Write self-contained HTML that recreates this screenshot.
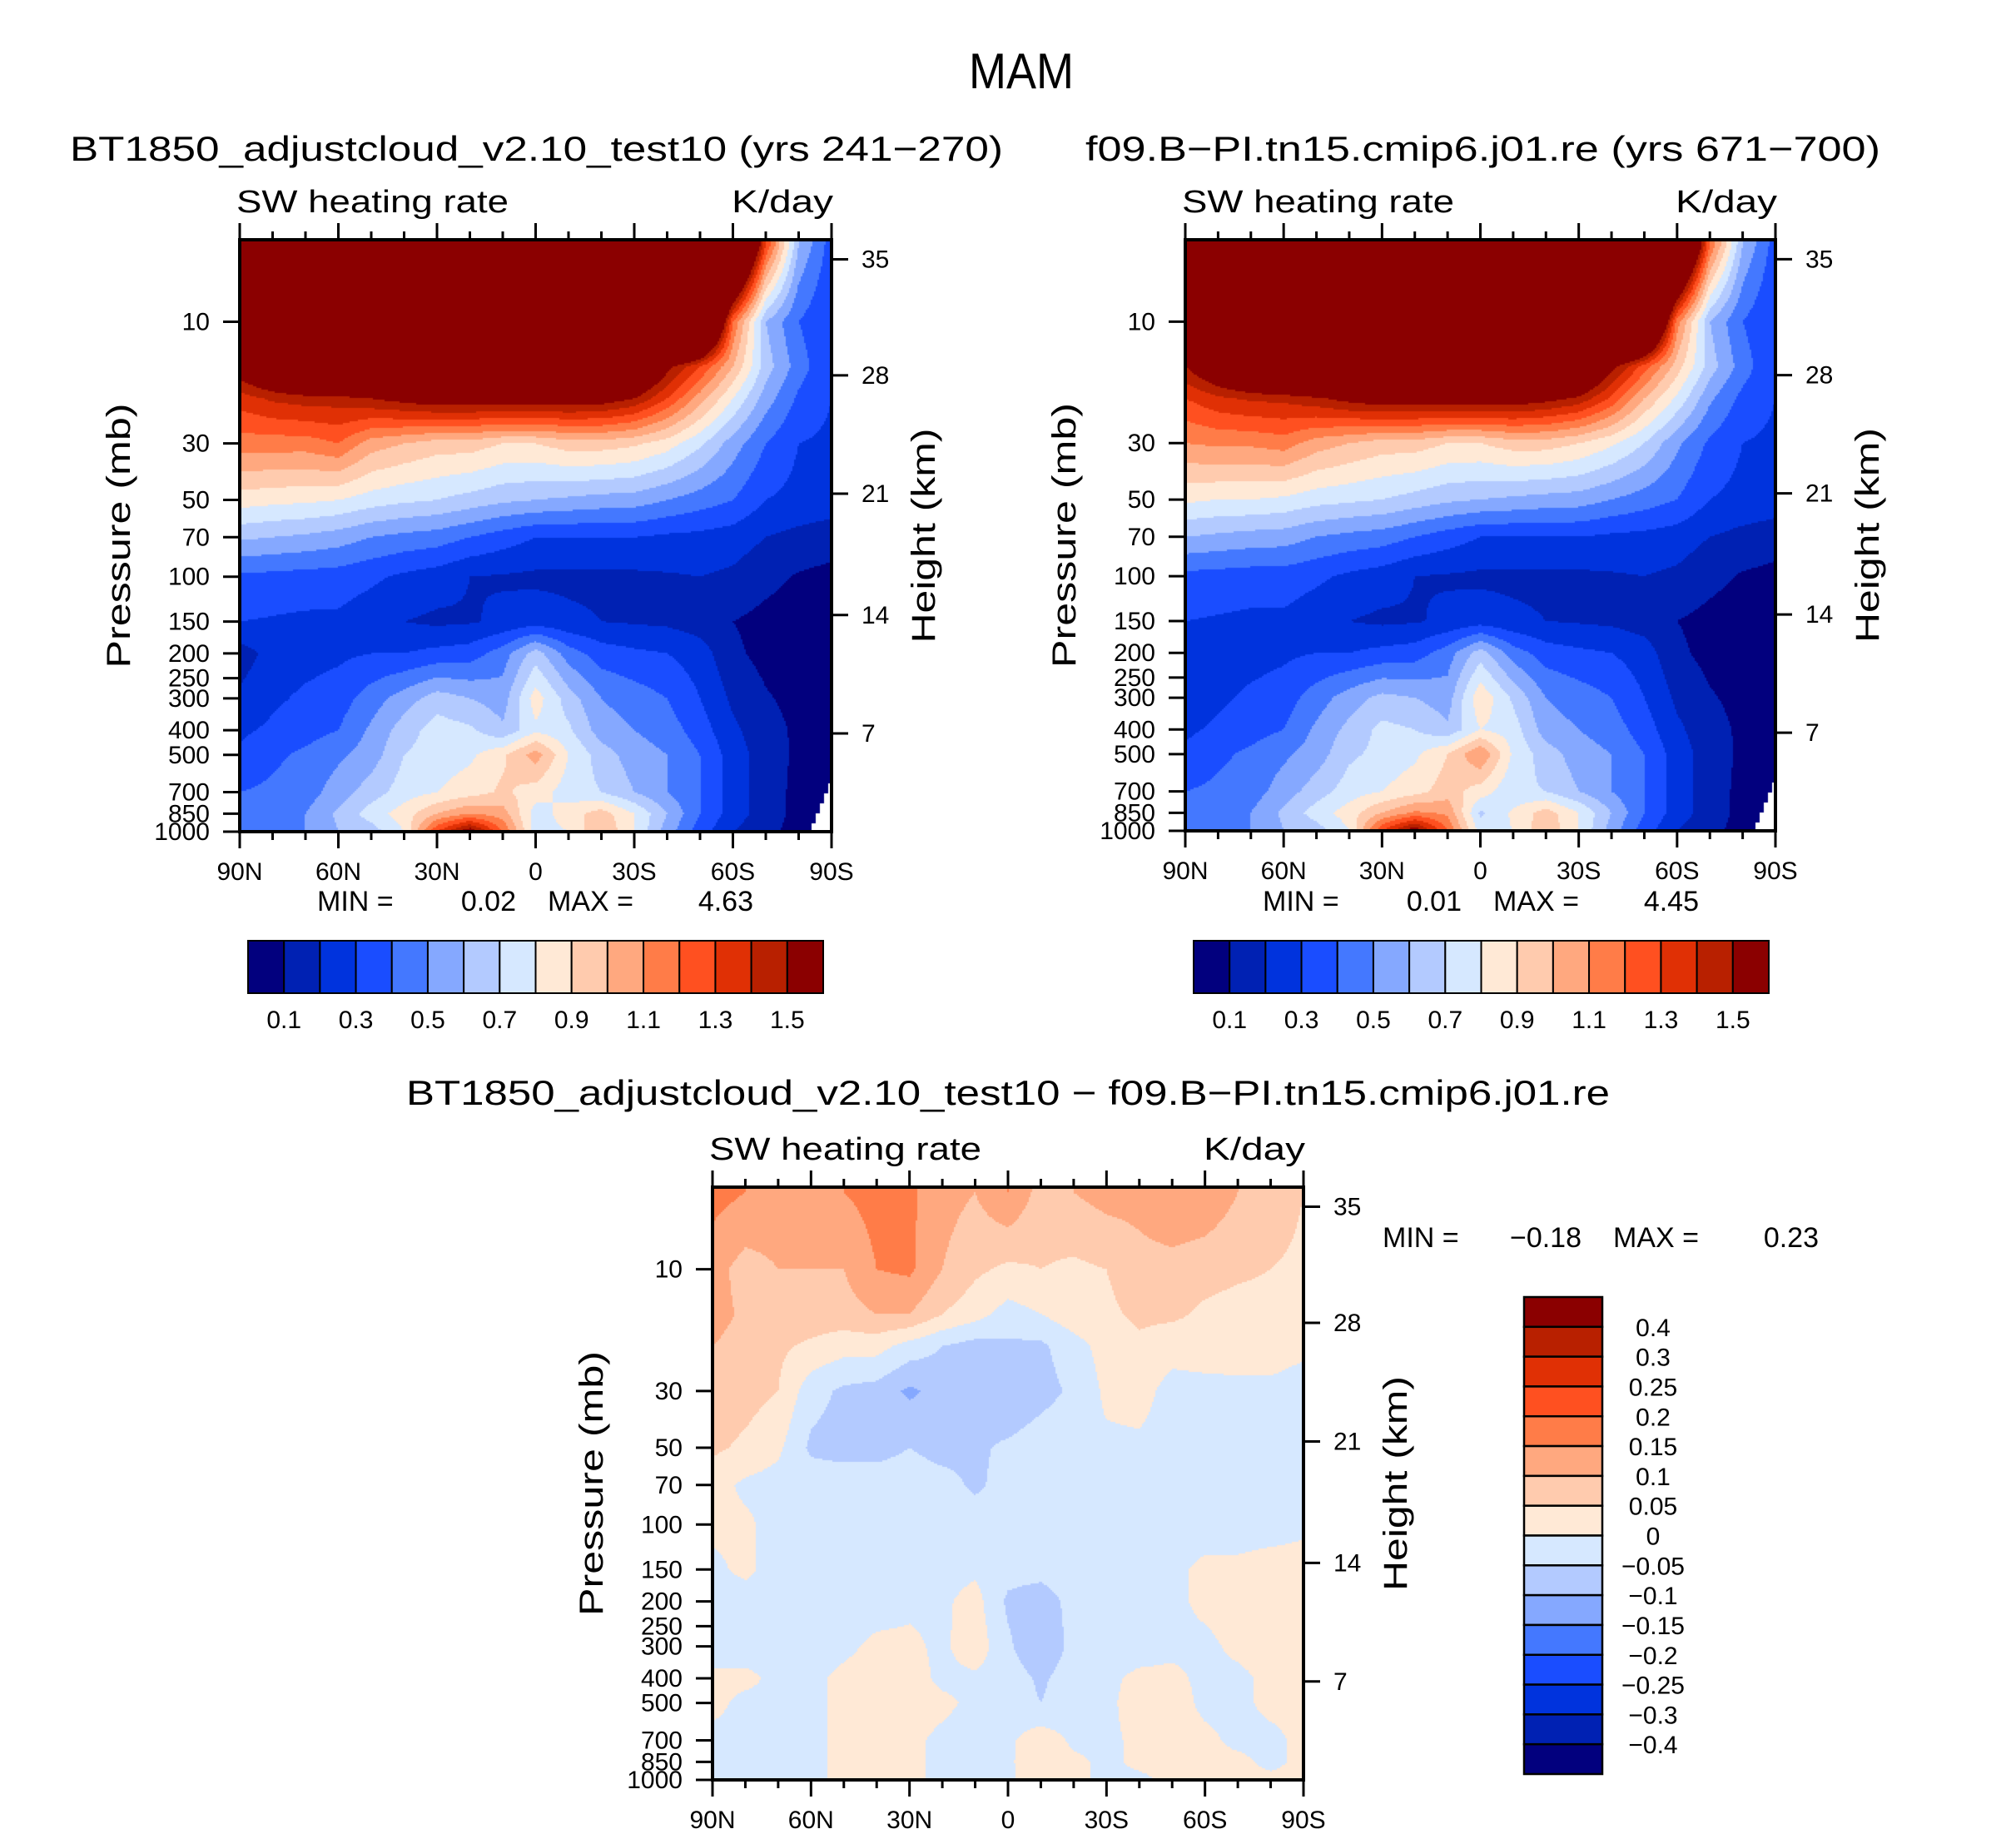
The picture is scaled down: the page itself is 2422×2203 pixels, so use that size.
<!DOCTYPE html>
<html><head><meta charset="utf-8"><title>MAM SW heating rate</title>
<style>
html,body{margin:0;padding:0;background:#fff;}
#root{position:relative;width:2422px;height:2203px;overflow:hidden;background:#fff;}
canvas{position:absolute;}
svg{position:absolute;left:0;top:0;}
text{font-family:"Liberation Sans",sans-serif;fill:#000;}
</style></head>
<body>
<div id="root">
<canvas id="cA"></canvas>
<canvas id="cB"></canvas>
<canvas id="cC"></canvas>
<svg id="ov" width="2422" height="2203"></svg>
</div>
<script>
// ---------- data ----------
const lats = [90,80,70,60,50,40,30,20,10,0,-10,-20,-30,-40,-50,-60,-70,-80,-90];
const pLevels = [5,10,15,20,30,50,70,100,150,200,300,400,500,700,850,1000];
const pTickLabels = [10,30,50,70,100,150,200,250,300,400,500,700,850,1000];
const latTicks = [90,60,30,0,-30,-60,-90];
const latTickLabels = ["90N","60N","30N","0","30S","60S","90S"];
const heightTicks = ["35","28","21","14","7"];
const heightTickFrac = [0.033,0.229,0.429,0.634,0.834];
const levelsAbs = [0.1,0.2,0.3,0.4,0.5,0.6,0.7,0.8,0.9,1.0,1.1,1.2,1.3,1.4,1.5];
const absBarLabels = ["0.1","0.3","0.5","0.7","0.9","1.1","1.3","1.5"];
const levelsDiff = [-0.4,-0.3,-0.25,-0.2,-0.15,-0.1,-0.05,0,0.05,0.1,0.15,0.2,0.25,0.3,0.4];
const diffBarLabels = ["0.4","0.3","0.25","0.2","0.15","0.1","0.05","0","\u22120.05","\u22120.1","\u22120.15","\u22120.2","\u22120.25","\u22120.3","\u22120.4"];
const palette = ["#02007e","#0021b3","#0033dd","#1a4dff","#4478ff","#85a8ff","#b3caff","#d6e8ff","#ffe9d6","#ffcbae","#ffa87f","#ff7c48","#ff5020","#e03005","#b82000","#8b0000"];

const fieldA = [
[3,3,3,3,3,3,3,3,3,3,3,3,3,3,3,2.5,1.3,0.6,0.35],
[3,3,3,3,3,3,3,3,3,3,3,3,3,3,2.5,1.2,0.6,0.4,0.3],
[1.6,1.8,2,2.2,2.3,2.4,2.5,2.5,2.5,2.5,2.4,2.2,1.9,1.55,1.3,1.0,0.65,0.45,0.3],
[1.35,1.42,1.45,1.45,1.5,1.55,1.6,1.6,1.6,1.6,1.6,1.58,1.5,1.3,1.05,0.8,0.55,0.38,0.3],
[1.15,1.15,1.15,1.2,1.05,1.0,0.95,0.95,0.9,0.9,0.95,0.95,0.92,0.85,0.72,0.55,0.4,0.3,0.28],
[0.85,0.83,0.82,0.8,0.75,0.72,0.7,0.66,0.62,0.6,0.58,0.56,0.55,0.5,0.45,0.4,0.3,0.27,0.25],
[0.62,0.6,0.58,0.55,0.5,0.47,0.45,0.4,0.35,0.3,0.3,0.3,0.3,0.28,0.27,0.25,0.2,0.17,0.15],
[0.38,0.37,0.36,0.35,0.32,0.28,0.25,0.2,0.19,0.18,0.18,0.18,0.18,0.19,0.2,0.18,0.13,0.09,0.07],
[0.3,0.29,0.28,0.28,0.24,0.2,0.18,0.19,0.22,0.25,0.22,0.2,0.19,0.18,0.15,0.1,0.07,0.05,0.04],
[0.15,0.24,0.26,0.28,0.3,0.3,0.33,0.35,0.45,0.65,0.45,0.35,0.32,0.3,0.25,0.12,0.07,0.05,0.04],
[0.22,0.28,0.32,0.35,0.45,0.55,0.65,0.6,0.55,0.85,0.65,0.5,0.45,0.4,0.3,0.18,0.11,0.07,0.05],
[0.28,0.32,0.36,0.4,0.52,0.65,0.75,0.72,0.62,0.78,0.72,0.55,0.5,0.45,0.35,0.22,0.14,0.08,0.05],
[0.32,0.38,0.42,0.48,0.55,0.7,0.75,0.78,0.88,1.05,0.8,0.65,0.55,0.5,0.4,0.25,0.15,0.08,0.05],
[0.4,0.42,0.45,0.55,0.65,0.75,0.8,0.85,0.92,0.85,0.75,0.7,0.6,0.5,0.4,0.25,0.15,0.07,0.05],
[0.45,0.48,0.5,0.62,0.75,0.85,1.0,1.1,1.05,0.75,0.85,0.95,0.8,0.6,0.4,0.25,0.15,0.07,0.05],
[0.42,0.45,0.5,0.6,0.65,0.8,1.3,1.6,1.2,0.75,0.8,1.0,0.8,0.55,0.35,0.2,0.13,0.06,0.04]
];
const fieldB = [
[3,3,3,3,3,3,3,3,3,3,3,3,3,3,3,2.4,1.2,0.6,0.35],
[3,3,3,3,3,3,3,3,3,3,3,3,3,3,2.4,1.15,0.6,0.4,0.3],
[1.5,1.7,1.9,2.1,2.2,2.4,2.5,2.5,2.5,2.5,2.4,2.2,1.9,1.55,1.25,0.95,0.65,0.45,0.3],
[1.3,1.38,1.42,1.43,1.48,1.55,1.6,1.6,1.6,1.6,1.6,1.55,1.48,1.28,1.0,0.78,0.52,0.37,0.3],
[1.1,1.12,1.12,1.15,1.05,1.0,0.95,0.95,0.9,0.9,0.95,0.95,0.9,0.82,0.7,0.52,0.38,0.3,0.28],
[0.82,0.8,0.8,0.78,0.74,0.72,0.7,0.66,0.62,0.6,0.58,0.56,0.55,0.5,0.45,0.4,0.3,0.27,0.25],
[0.6,0.58,0.56,0.55,0.5,0.47,0.45,0.4,0.35,0.3,0.3,0.3,0.3,0.28,0.27,0.25,0.2,0.17,0.15],
[0.37,0.36,0.35,0.35,0.32,0.28,0.25,0.2,0.19,0.18,0.18,0.18,0.18,0.19,0.2,0.18,0.13,0.09,0.07],
[0.3,0.29,0.28,0.28,0.24,0.2,0.18,0.19,0.22,0.25,0.22,0.2,0.19,0.18,0.15,0.1,0.07,0.05,0.04],
[0.22,0.25,0.26,0.28,0.3,0.3,0.33,0.35,0.45,0.65,0.45,0.35,0.32,0.3,0.25,0.12,0.07,0.05,0.04],
[0.24,0.28,0.32,0.35,0.45,0.55,0.63,0.6,0.55,0.88,0.68,0.5,0.45,0.4,0.3,0.18,0.11,0.07,0.05],
[0.28,0.32,0.36,0.4,0.52,0.63,0.73,0.7,0.62,0.8,0.75,0.55,0.5,0.45,0.35,0.22,0.14,0.08,0.05],
[0.32,0.38,0.42,0.48,0.55,0.68,0.73,0.78,0.9,1.1,0.78,0.65,0.55,0.5,0.4,0.25,0.15,0.08,0.05],
[0.4,0.42,0.45,0.55,0.65,0.75,0.8,0.86,0.95,0.85,0.72,0.7,0.6,0.5,0.4,0.25,0.15,0.07,0.05],
[0.45,0.48,0.5,0.62,0.75,0.85,1.0,1.12,1.08,0.68,0.82,0.95,0.8,0.6,0.4,0.25,0.15,0.07,0.05],
[0.42,0.45,0.5,0.6,0.65,0.8,1.3,1.6,1.2,0.75,0.8,0.98,0.8,0.55,0.35,0.2,0.13,0.06,0.04]
];
const fieldC = [
[0.17,0.15,0.13,0.13,0.15,0.17,0.16,0.12,0.1,0.15,0.08,0.1,0.12,0.12,0.15,0.14,0.1,0.08,0.05],
[0.12,0.08,0.1,0.1,0.1,0.15,0.16,0.1,0.06,0.04,0.05,0.04,0.05,0.08,0.08,0.07,0.06,0.05,0.04],
[0.12,0.09,0.08,0.08,0.08,0.1,0.1,0.05,0.02,-0.02,0.0,0.03,0.04,0.06,0.06,0.04,0.03,0.03,0.02],
[0.1,0.08,0.06,0.04,0.02,0.02,-0.02,-0.05,-0.07,-0.06,-0.06,-0.02,0.02,0.04,0.02,0.03,0.02,0.02,0.01],
[0.08,0.07,0.05,-0.03,-0.06,-0.07,-0.11,-0.08,-0.07,-0.1,-0.07,-0.04,0.01,0.02,-0.02,-0.02,-0.01,-0.01,-0.02],
[0.06,0.04,0.01,-0.06,-0.07,-0.07,-0.05,-0.07,-0.06,-0.04,-0.02,-0.01,-0.01,-0.01,-0.02,-0.02,-0.02,-0.02,-0.02],
[0.02,-0.01,-0.02,-0.02,-0.02,-0.02,-0.02,-0.03,-0.06,-0.03,-0.02,-0.02,-0.02,-0.02,-0.02,-0.02,-0.02,-0.02,-0.02],
[0.01,0.01,-0.02,-0.02,-0.02,-0.02,-0.02,-0.02,-0.02,-0.02,-0.02,-0.02,-0.02,-0.02,-0.02,-0.02,-0.02,-0.02,-0.01],
[-0.01,0.01,-0.02,-0.02,-0.02,-0.02,-0.02,-0.02,-0.01,-0.03,-0.03,-0.02,-0.02,-0.02,-0.01,0.01,0.01,0.02,0.02],
[-0.02,-0.02,-0.02,-0.02,-0.02,-0.02,-0.01,-0.01,0.02,-0.06,-0.08,-0.03,-0.02,-0.02,-0.01,0.01,0.02,0.02,0.02],
[-0.02,-0.02,-0.02,-0.02,-0.01,0.01,0.01,-0.01,0.03,-0.04,-0.1,-0.03,-0.02,-0.02,-0.01,-0.01,0.01,0.02,0.02],
[0.01,0.01,-0.01,-0.01,0.01,0.02,0.02,-0.01,-0.01,-0.02,-0.06,-0.02,-0.01,0.01,0.01,-0.01,-0.01,0.01,0.02],
[0.01,-0.01,-0.01,-0.01,0.01,0.02,0.02,0.01,-0.01,-0.02,-0.05,-0.02,-0.01,0.02,0.02,-0.01,-0.01,0.01,0.01],
[-0.01,-0.01,-0.01,-0.01,0.01,0.02,0.01,-0.01,-0.02,-0.01,0.03,-0.01,-0.01,0.01,0.02,0.01,-0.01,-0.01,0.01],
[-0.01,-0.01,-0.01,-0.01,0.01,0.02,0.01,-0.01,-0.02,-0.01,0.04,0.01,-0.01,0.01,0.02,0.01,0.01,-0.01,0.01],
[-0.01,-0.01,-0.01,-0.01,0.01,0.02,0.01,-0.01,-0.03,-0.01,0.03,0.01,-0.01,-0.01,0.01,0.01,0.01,0.01,0.01]
];

// ---------- layout ----------
const panelA = {x:288,y:288,w:711,h:711};
const panelB = {x:1424,y:288,w:709,h:710};
const panelC = {x:856,y:1426,w:710,h:712};
const LP0 = Math.log10(4.77), LP1 = 3;

function interp(field, lat, lp){
  let fi = (90-lat)/10; fi = Math.max(0,Math.min(18,fi));
  const i0 = Math.min(17,Math.floor(fi)), tx = fi-i0;
  const lpl = pLevels.map(p=>Math.log10(p));
  let j0 = 0, ty = 0;
  if (lp > lpl[0]) { for (j0=0;j0<lpl.length-2 && lp>lpl[j0+1];j0++); ty = Math.min(1,(lp-lpl[j0])/(lpl[j0+1]-lpl[j0])); }
  const a=field[j0][i0], b=field[j0][i0+1], c=field[j0+1][i0], d=field[j0+1][i0+1];
  return (a*(1-tx)+b*tx)*(1-ty)+(c*(1-tx)+d*tx)*ty;
}
function colorFor(v, lev){ let k=0; while(k<lev.length && v>=lev[k]) k++; return palette[k]; }
function drawField(id, pan, field, lev, missingCorner){
  const cv=document.getElementById(id);
  cv.width=pan.w; cv.height=pan.h; cv.style.left=pan.x+'px'; cv.style.top=pan.y+'px';
  const ctx=cv.getContext('2d'); const s=2;
  for(let py=0;py<pan.h;py+=s){
    const lp=LP0+(LP1-LP0)*(py+s/2)/pan.h;
    for(let px=0;px<pan.w;px+=s){
      const lat=90-180*(px+s/2)/pan.w;
      ctx.fillStyle=colorFor(interp(field,lat,lp),lev);
      ctx.fillRect(px,py,s,s);
    }
  }
  if(missingCorner){
    ctx.fillStyle='#fff';
    for(let k=0;k<5;k++){ const xx=pan.w-24+k*5; const yy=pan.h-10-k*12; ctx.fillRect(xx,yy,pan.w-xx,pan.h-yy); }
  }
}
drawField('cA',panelA,fieldA,levelsAbs,true);
drawField('cB',panelB,fieldB,levelsAbs,true);
drawField('cC',panelC,fieldC,levelsDiff,false);

// ---------- svg overlay ----------
const NS="http://www.w3.org/2000/svg";
const ov=document.getElementById('ov');
function mk(tag, attrs, txt){ const e=document.createElementNS(NS,tag); for(const k in attrs) e.setAttribute(k,attrs[k]); if(txt!==undefined) e.textContent=txt; ov.appendChild(e); return e; }
function yOf(pan,p){ return pan.y+pan.h*(Math.log10(p)-LP0)/(LP1-LP0); }
function xOf(pan,lat){ return pan.x+pan.w*(90-lat)/180; }

function axes(pan, tag){
  let e;
  e=mk('rect',{x:pan.x,y:pan.y,width:pan.w,height:pan.h,fill:'none',stroke:'#000','stroke-width':4});
  
  
  for(let lat=90;lat>=-90;lat-=10){
    const x=xOf(pan,lat), major=(lat%30===0), L=major?20:10;
    e=mk('line',{x1:x,x2:x,y1:pan.y,y2:pan.y-L,stroke:'#000','stroke-width':3});
    
    
    e=mk('line',{x1:x,x2:x,y1:pan.y+pan.h,y2:pan.y+pan.h+L,stroke:'#000','stroke-width':3});
    
    
  }
  latTicks.forEach((lat,i)=>{
    e=mk('text',{x:xOf(pan,lat),y:pan.y+pan.h+58,'font-size':30,'text-anchor':'middle'},latTickLabels[i]);
    
    
  });
  pTickLabels.forEach(p=>{
    const y=yOf(pan,p);
    e=mk('line',{x1:pan.x,x2:pan.x-20,y1:y,y2:y,stroke:'#000','stroke-width':3});
    
    
    e=mk('text',{x:pan.x-36,y:y+10,'font-size':30,'text-anchor':'end'},String(p));
    
    
  });
  heightTicks.forEach((h,i)=>{
    const y=pan.y+pan.h*heightTickFrac[i];
    e=mk('line',{x1:pan.x+pan.w,x2:pan.x+pan.w+20,y1:y,y2:y,stroke:'#000','stroke-width':3});
    
    
    e=mk('text',{x:pan.x+pan.w+36,y:y+10,'font-size':30},h);
    
    
  });
  const cy=pan.y+pan.h/2;
  e=mk('text',{x:0,y:0,'font-size':40,'text-anchor':'middle',textLength:318,lengthAdjust:'spacingAndGlyphs',transform:`translate(${pan.x-132},${cy}) rotate(-90)`},'Pressure  (mb)');
  
  
  e=mk('text',{x:0,y:0,'font-size':40,'text-anchor':'middle',textLength:258,lengthAdjust:'spacingAndGlyphs',transform:`translate(${pan.x+pan.w+124},${cy}) rotate(-90)`},'Height  (km)');
  
  
  e=mk('text',{x:pan.x-4,y:pan.y-33,'font-size':38,textLength:327,lengthAdjust:'spacingAndGlyphs'},'SW heating rate');
  
  
  e=mk('text',{x:pan.x+pan.w+2,y:pan.y-33,'font-size':38,'text-anchor':'end',textLength:122,lengthAdjust:'spacingAndGlyphs'},'K/day');
  
  
}
axes(panelA,'panel-a'); axes(panelB,'panel-b'); axes(panelC,'panel-c');

let t;
t=mk('text',{x:1227,y:106,'font-size':60,'text-anchor':'middle',textLength:126,lengthAdjust:'spacingAndGlyphs'},'MAM');


t=mk('text',{x:84,y:193,'font-size':42,textLength:1121,lengthAdjust:'spacingAndGlyphs'},'BT1850_adjustcloud_v2.10_test10 (yrs 241\u2212270)');


t=mk('text',{x:1304,y:193,'font-size':42,textLength:955,lengthAdjust:'spacingAndGlyphs'},'f09.B\u2212PI.tn15.cmip6.j01.re (yrs 671\u2212700)');


t=mk('text',{x:488,y:1327,'font-size':42,textLength:1446,lengthAdjust:'spacingAndGlyphs'},'BT1850_adjustcloud_v2.10_test10 \u2212 f09.B\u2212PI.tn15.cmip6.j01.re');



function minmax(x0,y,minV,maxV,tag){
  let e;
  e=mk('text',{x:x0,y:y,'font-size':34},'MIN  =');
  
  
  e=mk('text',{x:x0+239,y:y,'font-size':34,'text-anchor':'end'},minV);
  
  
  e=mk('text',{x:x0+277,y:y,'font-size':34},'MAX  =');
  
  
  e=mk('text',{x:x0+524,y:y,'font-size':34,'text-anchor':'end'},maxV);
  
  
}
minmax(381,1094,'0.02','4.63','panel-a');
minmax(1517,1094,'0.01','4.45','panel-b');
minmax(1661,1498,'\u22120.18','0.23','panel-c');

function hbar(x0,y0,w,h,tag){
  const bw=w/palette.length; let e;
  palette.forEach((c,i)=>{
    e=mk('rect',{x:x0+i*bw,y:y0,width:bw,height:h,fill:c,stroke:'#000','stroke-width':2});
    
    
  });
  absBarLabels.forEach((l,i)=>{
    e=mk('text',{x:x0+(2*i+1)*bw,y:y0+h+42,'font-size':30,'text-anchor':'middle'},l);
    
    
  });
}
hbar(298,1130,691,63,'panel-a');
hbar(1434,1130,691,63,'panel-b');

(function(){
  const x0=1831,y0=1558,w=94,h=573,bh=h/palette.length; let e;
  for(let i=0;i<palette.length;i++){
    e=mk('rect',{x:x0,y:y0+i*bh,width:w,height:bh,fill:palette[palette.length-1-i],stroke:'#000','stroke-width':2.5});
    
    
  }
  diffBarLabels.forEach((l,i)=>{
    e=mk('text',{x:1986,y:y0+(i+1)*bh+11,'font-size':30,'text-anchor':'middle'},l);
    
    
  });
})();
</script>
</body></html>
